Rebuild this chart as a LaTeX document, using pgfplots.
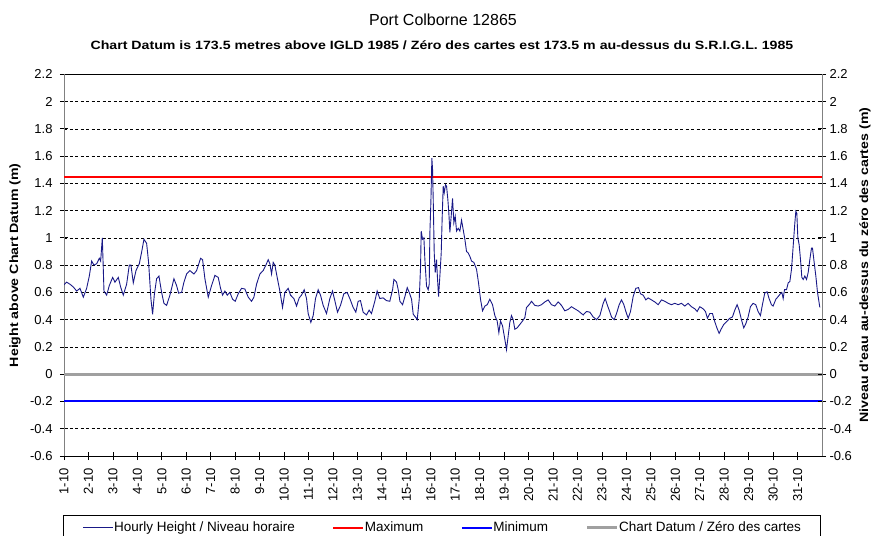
\documentclass[border=0pt]{standalone}
\usepackage{fontspec}
\setmainfont{Liberation Sans}
\newfontfamily\boldwide[FakeStretch=1.18]{Liberation Sans Bold}
\usepackage{pgfplots}
\usepackage{pgfplotstable}
\pgfplotsset{compat=1.18}
\definecolor{hourly}{RGB}{25,25,135}
\definecolor{datum}{RGB}{160,160,160}
\definecolor{axgray}{RGB}{128,128,128}
\pgfplotstableread{
d h
1.000 0.656
1.109 0.675
1.245 0.66
1.381 0.64
1.518 0.61
1.654 0.63
1.790 0.565
1.926 0.63
2.035 0.72
2.131 0.83
2.226 0.80
2.335 0.81
2.444 0.85
2.499 0.83
2.567 1.00
2.635 0.61
2.744 0.58
2.853 0.65
2.989 0.71
3.084 0.675
3.221 0.71
3.316 0.64
3.425 0.58
3.561 0.66
3.670 0.80
3.738 0.80
3.834 0.67
3.943 0.76
4.079 0.81
4.174 0.895
4.270 0.99
4.379 0.96
4.460 0.82
4.556 0.55
4.624 0.44
4.692 0.58
4.787 0.70
4.883 0.72
4.992 0.60
5.087 0.52
5.196 0.505
5.332 0.58
5.496 0.70
5.605 0.65
5.687 0.595
5.809 0.60
5.905 0.675
6.014 0.735
6.150 0.76
6.313 0.735
6.422 0.76
6.586 0.85
6.668 0.84
6.763 0.70
6.899 0.565
7.035 0.65
7.172 0.725
7.308 0.71
7.403 0.63
7.485 0.58
7.580 0.61
7.676 0.58
7.785 0.60
7.894 0.55
8.003 0.535
8.125 0.59
8.262 0.63
8.398 0.625
8.534 0.565
8.670 0.535
8.766 0.565
8.875 0.66
9.011 0.735
9.147 0.76
9.256 0.80
9.351 0.84
9.420 0.81
9.488 0.735
9.556 0.82
9.624 0.80
9.719 0.71
9.828 0.61
9.937 0.49
10.033 0.60
10.169 0.63
10.264 0.58
10.401 0.555
10.510 0.50
10.619 0.56
10.714 0.58
10.823 0.62
10.918 0.555
10.986 0.445
11.095 0.38
11.191 0.43
11.286 0.555
11.395 0.62
11.490 0.58
11.599 0.505
11.736 0.445
11.872 0.555
11.981 0.61
12.076 0.54
12.185 0.455
12.308 0.505
12.444 0.59
12.580 0.60
12.689 0.555
12.826 0.49
12.935 0.455
13.030 0.535
13.125 0.54
13.234 0.455
13.371 0.435
13.480 0.47
13.575 0.445
13.711 0.535
13.807 0.61
13.916 0.555
14.052 0.56
14.188 0.54
14.324 0.535
14.438 0.62
14.492 0.695
14.601 0.675
14.669 0.62
14.737 0.535
14.846 0.51
14.942 0.57
15.037 0.635
15.119 0.60
15.214 0.55
15.282 0.44
15.391 0.415
15.446 0.40
15.528 0.55
15.582 0.79
15.609 1.05
15.664 0.99
15.718 1.00
15.759 0.84
15.827 0.645
15.895 0.62
15.936 0.66
15.964 1.04
16.004 1.26
16.045 1.585
16.073 1.50
16.100 1.28
16.141 0.89
16.182 0.745
16.236 0.84
16.277 0.695
16.318 0.57
16.372 0.72
16.427 0.89
16.468 1.16
16.509 1.38
16.549 1.33
16.604 1.39
16.645 1.38
16.699 1.28
16.740 1.18
16.781 1.04
16.835 1.16
16.890 1.29
16.944 1.11
16.999 1.16
17.054 1.05
17.122 1.07
17.190 1.05
17.258 1.13
17.326 1.06
17.394 0.99
17.462 0.90
17.530 0.89
17.598 0.865
17.667 0.83
17.762 0.82
17.871 0.77
17.953 0.67
18.034 0.55
18.116 0.465
18.212 0.50
18.307 0.51
18.416 0.55
18.525 0.51
18.620 0.43
18.716 0.39
18.784 0.305
18.852 0.39
18.934 0.355
19.029 0.255
19.097 0.18
19.165 0.28
19.233 0.38
19.301 0.43
19.370 0.40
19.438 0.33
19.533 0.34
19.642 0.365
19.751 0.39
19.846 0.415
19.915 0.49
20.024 0.51
20.119 0.535
20.255 0.505
20.391 0.50
20.528 0.51
20.664 0.53
20.800 0.545
20.936 0.51
21.073 0.50
21.209 0.53
21.345 0.505
21.481 0.465
21.618 0.475
21.754 0.495
21.890 0.48
22.026 0.465
22.234 0.435
22.370 0.46
22.506 0.455
22.642 0.42
22.779 0.40
22.915 0.43
23.051 0.52
23.133 0.555
23.215 0.51
23.296 0.47
23.392 0.42
23.501 0.40
23.596 0.445
23.705 0.51
23.800 0.545
23.896 0.51
23.978 0.46
24.073 0.41
24.168 0.46
24.277 0.57
24.386 0.63
24.495 0.635
24.577 0.59
24.686 0.58
24.795 0.545
24.890 0.56
25.027 0.545
25.163 0.53
25.299 0.51
25.435 0.545
25.572 0.535
25.708 0.52
25.844 0.51
25.980 0.52
26.117 0.51
26.253 0.52
26.389 0.50
26.525 0.52
26.661 0.495
26.798 0.48
26.893 0.46
27.002 0.495
27.138 0.48
27.234 0.46
27.315 0.41
27.411 0.445
27.520 0.445
27.615 0.385
27.711 0.335
27.792 0.30
27.888 0.335
27.983 0.365
28.092 0.385
28.228 0.41
28.337 0.42
28.433 0.47
28.528 0.51
28.610 0.47
28.705 0.40
28.800 0.34
28.882 0.37
28.978 0.42
29.073 0.495
29.182 0.52
29.291 0.51
29.386 0.46
29.482 0.43
29.563 0.51
29.659 0.595
29.754 0.605
29.836 0.555
29.931 0.51
30.000 0.50
30.113 0.55
30.208 0.57
30.276 0.585
30.358 0.60
30.412 0.555
30.467 0.62
30.549 0.62
30.617 0.67
30.685 0.68
30.753 0.77
30.821 0.94
30.889 1.11
30.930 1.195
30.971 1.18
31.012 1.00
31.066 0.95
31.121 0.84
31.175 0.71
31.230 0.695
31.298 0.72
31.366 0.695
31.434 0.745
31.502 0.84
31.570 0.925
31.611 0.925
31.666 0.84
31.748 0.72
31.816 0.60
31.911 0.49
}\hourlydata
\begin{document}
\begin{tikzpicture}
\path[use as bounding box] (-64bp,-80bp) rectangle (810bp,456bp);
\begin{axis}[
  name=main, at={(0,0)}, anchor=south west, scale only axis,
  width=758bp, height=381.7bp,
  xmin=1, xmax=32, ymin=-0.6, ymax=2.2,
  xtick={1,...,31},
  xticklabels={1-10,2-10,3-10,4-10,5-10,6-10,7-10,8-10,9-10,10-10,11-10,12-10,13-10,14-10,15-10,16-10,17-10,18-10,19-10,20-10,21-10,22-10,23-10,24-10,25-10,26-10,27-10,28-10,29-10,30-10,31-10},
  ytick={-0.6,-0.4,-0.2,0,0.2,0.4,0.6,0.8,1,1.2,1.4,1.6,1.8,2,2.2},
  yticklabels={-0.6,-0.4,-0.2,0,0.2,0.4,0.6,0.8,1,1.2,1.4,1.6,1.8,2,2.2},
  ymajorgrids, grid style={black, line width=0.6bp, dash pattern=on 3bp off 2.5bp},
  tick align=center, major tick length=8bp, tick style={black, line width=0.8bp},
  ytick pos=left, xtick pos=bottom,
  separate axis lines,
  x axis line style={black, line width=0.8bp},
  y axis line style={axgray, line width=1bp},
  ticklabel style={font=\fontsize{13bp}{15bp}\selectfont},
  xticklabel style={rotate=90, anchor=east, xshift=-5bp},
  yticklabel style={xshift=-4bp},
  ylabel={\boldwide Height above Chart Datum (m)},
  ylabel style={at={(axis description cs:-0.0646,0.5)}, anchor=center, font=\fontsize{12bp}{14bp}\selectfont},
]
\addplot[datum, line width=3bp] coordinates {(1,0) (32,0)};
\addplot[red, line width=2bp] coordinates {(1,1.443) (32,1.443)};
\addplot[blue, line width=2bp] coordinates {(1,-0.2) (32,-0.2)};
\addplot[hourly, line width=0.9bp] table[x=d, y=h] {\hourlydata};
\end{axis}
\begin{axis}[
  at={(0,0)}, anchor=south west, scale only axis,
  width=758bp, height=381.7bp,
  xmin=1, xmax=32, ymin=-0.6, ymax=2.2,
  axis x line=none, axis y line*=right,
  y axis line style={axgray, line width=1bp},
  ytick={-0.6,-0.4,-0.2,0,0.2,0.4,0.6,0.8,1,1.2,1.4,1.6,1.8,2,2.2},
  yticklabels={-0.6,-0.4,-0.2,0,0.2,0.4,0.6,0.8,1,1.2,1.4,1.6,1.8,2,2.2},
  tick align=center, major tick length=8bp, tick style={black, line width=0.8bp},
  ticklabel style={font=\fontsize{13bp}{15bp}\selectfont},
  ylabel={\boldwide Niveau d'eau au-dessus du zéro des cartes (m)},
  ylabel style={at={(axis description cs:1.0567,0.5)}, anchor=center, font=\fontsize{12bp}{14bp}\selectfont},
  legend columns=4,
  legend style={at={(axis description cs:0.4987,-0.1546)}, anchor=north, draw=black, line width=0.8bp,
    font=\fontsize{13.5bp}{16bp}\selectfont, inner xsep=19bp, inner ysep=2.5bp,
    nodes={inner xsep=0.5bp, inner ysep=4bp},
    /tikz/every even column/.append style={column sep=37bp}},
  legend image code/.code={\draw[#1] (0bp,0bp) -- (30bp,0bp);},
]
\addlegendimage{hourly, line width=0.9bp}
\addlegendentry{Hourly Height / Niveau horaire}
\addlegendimage{red, line width=2bp}
\addlegendentry{Maximum}
\addlegendimage{blue, line width=2bp}
\addlegendentry{Minimum}
\addlegendimage{datum, line width=3bp}
\addlegendentry{Chart Datum / Zéro des cartes}
\end{axis}
\node[anchor=base, font=\fontsize{16bp}{18bp}\selectfont] at (379bp,430bp) {Port Colborne 12865};
\node[anchor=base, font=\fontsize{12bp}{14bp}\selectfont] at (378bp,406bp) {\boldwide Chart Datum is 173.5 metres above IGLD 1985 / Zéro des cartes est 173.5 m au-dessus du S.R.I.G.L. 1985};
\end{tikzpicture}
\end{document}
